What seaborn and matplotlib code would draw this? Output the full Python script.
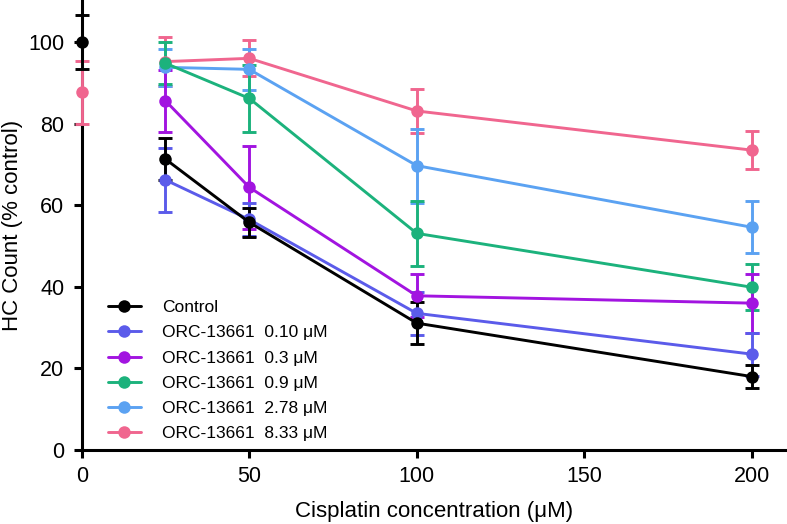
import pandas as pd
import matplotlib
matplotlib.use("Agg")
import matplotlib.pyplot as plt
from matplotlib.lines import Line2D
import seaborn as sns

# cisplatin doses (uM) for the connected series
doses = [25, 50, 100, 200]

series_names = [
    "Control",
    "ORC-13661  0.10 μM",
    "ORC-13661  0.3 μM",
    "ORC-13661  0.9 μM",
    "ORC-13661  2.78 μM",
    "ORC-13661  8.33 μM",
]
colors = ["#000000", "#5b5bea", "#a214e0", "#1cb27c", "#5ba2f2", "#f0668f"]

control_mean = [71.3, 55.8, 31.1, 18.0]
control_err = [5.1, 3.5, 5.1, 2.9]
orc_010_mean = [66.2, 56.5, 33.5, 23.5]
orc_010_err = [7.9, 4.0, 5.3, 5.3]
orc_03_mean = [85.6, 64.4, 37.8, 36.0]
orc_03_err = [7.6, 10.2, 5.3, 7.2]
orc_09_mean = [94.8, 86.2, 53.1, 39.9]
orc_09_err = [5.2, 8.2, 8.0, 5.7]
orc_278_mean = [93.8, 93.3, 69.7, 54.6]
orc_278_err = [4.5, 5.1, 9.1, 6.4]
orc_833_mean = [95.2, 96.0, 83.1, 73.5]
orc_833_err = [6.0, 4.4, 5.4, 4.6]

# points at 0 uM cisplatin (not connected)
zero_names = ["Control", "ORC-13661  8.33 μM"]
zero_mean = [100.0, 87.7]
zero_err = [6.6, 7.7]

means = [control_mean, orc_010_mean, orc_03_mean, orc_09_mean, orc_278_mean, orc_833_mean]
errs = [control_err, orc_010_err, orc_03_err, orc_09_err, orc_278_err, orc_833_err]

rows = []
for name, m, e in zip(series_names, means, errs):
    for d, v, s in zip(doses, m, e):
        rows.append({"dose": d, "count": v, "sd": s, "group": name})
df = pd.DataFrame(rows)

sns.set_style("ticks")
plt.rcParams["font.family"] = ["Liberation Sans", "DejaVu Sans"]
plt.rcParams["text.color"] = "black"
plt.rcParams["axes.labelcolor"] = "black"
plt.rcParams["xtick.color"] = "black"
plt.rcParams["ytick.color"] = "black"
plt.rcParams["axes.edgecolor"] = "black"

fig = plt.figure(figsize=(7.87, 5.24), dpi=100)
ax = fig.add_axes([0.1038, 0.1412, 0.8962, 0.8588])

palette = dict(zip(series_names, colors))
lw = 2.1
# draw last series first so Control sits on top
for name in series_names[::-1]:
    sub = df[df["group"] == name]
    ax.errorbar(sub["dose"], sub["count"], yerr=sub["sd"], fmt="none",
                ecolor=palette[name], elinewidth=lw, capsize=5, capthick=lw,
                clip_on=False, zorder=2)
    sns.lineplot(data=sub, x="dose", y="count", color=palette[name], marker="o",
                 markersize=9, markeredgewidth=0, linewidth=lw, legend=False,
                 ax=ax, clip_on=False, zorder=3)

for name, v, s in zip(zero_names[::-1], zero_mean[::-1], zero_err[::-1]):
    ax.errorbar([0], [v], yerr=[s], fmt="none", ecolor=palette[name],
                elinewidth=lw, capsize=5, capthick=lw, clip_on=False, zorder=4)
    ax.plot([0], [v], "o", color=palette[name], markersize=9,
            markeredgewidth=0, clip_on=False, zorder=5)

ax.set_xlim(0, 210.5)
ax.set_ylim(0, 110.3)
ax.set_xticks([0, 50, 100, 150, 200])
ax.set_yticks([0, 20, 40, 60, 80, 100])
sns.despine(ax=ax)
for sp in ["left", "bottom"]:
    ax.spines[sp].set_linewidth(2.2)
    ax.spines[sp].set_zorder(1)
ax.tick_params(axis="both", length=5.5, width=2.2, labelsize=15.5)
ax.tick_params(axis="x", pad=6)
ax.tick_params(axis="y", pad=7)

ax.set_xlabel("Cisplatin concentration (μM)", fontsize=16, labelpad=10)
ax.set_ylabel("HC Count (% control)", fontsize=16, labelpad=4)

handles = [Line2D([0], [0], color=c, lw=lw, marker="o", markersize=9,
                  markeredgewidth=0) for c in colors]
ax.legend(handles, series_names, loc="lower left", bbox_to_anchor=(0.025, 0.0),
          frameon=False, fontsize=12.5, handlelength=1.9, handletextpad=1.2,
          labelspacing=0.58, borderaxespad=0.1)

fig.savefig("out.png", dpi=100)
